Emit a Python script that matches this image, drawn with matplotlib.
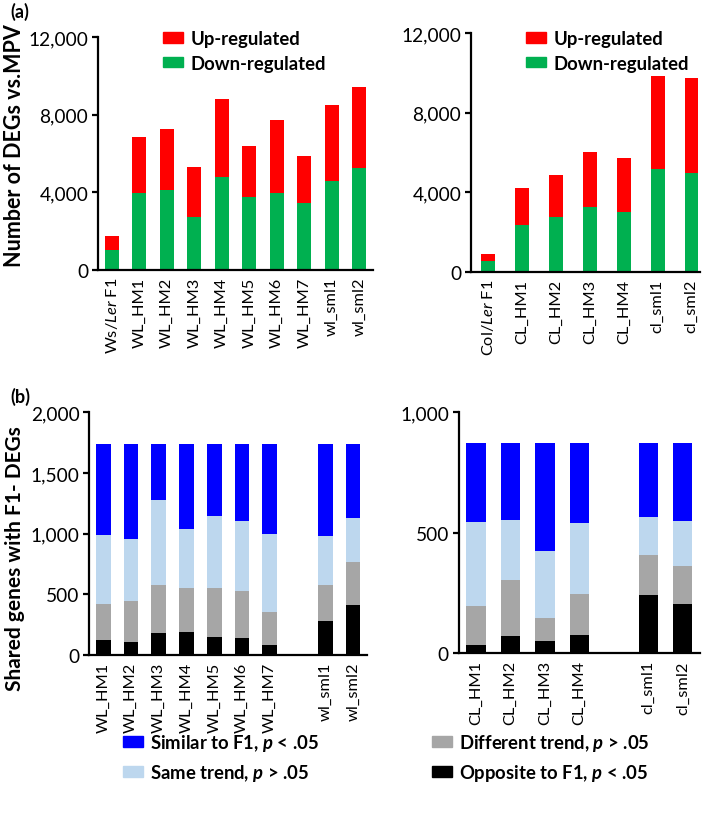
import matplotlib
matplotlib.use("Agg")
import matplotlib.pyplot as plt
from matplotlib.patches import Patch
import numpy as np

plt.rcParams['font.family'] = ['Lato', 'DejaVu Sans']
plt.rcParams['mathtext.fontset'] = 'custom'
plt.rcParams['mathtext.rm'] = 'Lato'
plt.rcParams['mathtext.it'] = 'Lato:italic'
plt.rcParams['mathtext.bf'] = 'Lato:bold'
plt.rcParams['mathtext.bfit'] = 'Lato:italic:bold'

# ---------------- data ----------------
# (a) left: DEGs vs MPV (Ws x Ler)
cats_a_left = ["Ws/$\\mathit{Ler}$ F1", "WL_HM1", "WL_HM2", "WL_HM3", "WL_HM4",
               "WL_HM5", "WL_HM6", "WL_HM7", "wl_sml1", "wl_sml2"]
down_a_left = [1030, 3970, 4140, 2750, 4810, 3740, 3950, 3430, 4580, 5240]
total_a_left = [1740, 6870, 7260, 5300, 8810, 6390, 7710, 5890, 8500, 9460]

# (a) right: DEGs vs MPV (Col x Ler)
cats_a_right = ["Col/$\\mathit{Ler}$ F1", "CL_HM1", "CL_HM2", "CL_HM3", "CL_HM4",
                "cl_sml1", "cl_sml2"]
down_a_right = [550, 2350, 2770, 3270, 3020, 5170, 4990]
total_a_right = [870, 4210, 4870, 6040, 5720, 9870, 9730]

# (b) left: shared genes with F1 DEGs (cumulative tops of each segment)
cats_b_left = ["WL_HM1", "WL_HM2", "WL_HM3", "WL_HM4", "WL_HM5", "WL_HM6",
               "WL_HM7", "wl_sml1", "wl_sml2"]
pos_b_left = [0, 1, 2, 3, 4, 5, 6, 8, 9]
opposite_b_left = [120, 107, 179, 187, 149, 140, 83, 275, 413]
different_top_b_left = [418, 446, 578, 547, 550, 528, 349, 578, 762]
same_top_b_left = [990, 955, 1274, 1034, 1142, 1106, 999, 982, 1131]
total_b_left = [1740] * 9

# (b) right
cats_b_right = ["CL_HM1", "CL_HM2", "CL_HM3", "CL_HM4", "cl_sml1", "cl_sml2"]
pos_b_right = [0, 1, 2, 3, 5, 6]
opposite_b_right = [36, 72, 51, 77, 242, 203]
different_top_b_right = [195, 304, 145, 246, 408, 362]
same_top_b_right = [546, 555, 423, 539, 567, 550]
total_b_right = [873] * 6

RED = "#FF0000"
GREEN = "#00B050"
BLUE = "#0000FF"
LBLUE = "#BDD7EE"
GRAY = "#A6A6A6"
BLACK = "#000000"

W, H = 709, 820
fig = plt.figure(figsize=(W / 100, H / 100), dpi=100)

def box(l, r, t, b):
    return [l / W, 1 - b / H, (r - l) / W, (b - t) / H]

ax1 = fig.add_axes(box(98, 373, 38.3, 271))
ax2 = fig.add_axes(box(471, 700, 34.3, 272.7))
ax3 = fig.add_axes(box(89.3, 367, 413.3, 655.7))
ax4 = fig.add_axes(box(458.7, 700, 413.3, 654.3))

YFS = 13.8
XFS = 11.8
LFS = 13.3

def style(ax):
    for s in ["top", "right"]:
        ax.spines[s].set_visible(False)
    for s in ["left", "bottom"]:
        ax.spines[s].set_linewidth(1.6)
    ax.tick_params(axis='y', direction='out', length=4, width=1.6, labelsize=YFS, pad=3)
    ax.tick_params(axis='x', length=0, labelsize=XFS, pad=5)

def stacked_a(ax, cats, down, total, width, xlim):
    x = np.arange(len(cats))
    up = np.array(total) - np.array(down)
    ax.bar(x, down, width, color=GREEN, linewidth=0)
    ax.bar(x, up, width, bottom=down, color=RED, linewidth=0)
    ax.set_xticks(x)
    ax.set_xticklabels(cats, rotation=90)
    ax.set_xlim(*xlim)
    ax.set_ylim(0, 12000)
    ax.set_yticks([0, 4000, 8000, 12000])
    ax.set_yticklabels(["0", "4,000", "8,000", "12,000"])
    style(ax)

stacked_a(ax1, cats_a_left, down_a_left, total_a_left, 0.5, (-0.5, 9.5))
stacked_a(ax2, cats_a_right, down_a_right, total_a_right, 0.41, (-0.5, 6.25))

def stacked_b(ax, pos, cats, opp, diff_top, same_top, total, width, xlim, ymax, yticks, ylabels):
    opp = np.array(opp); diff_top = np.array(diff_top)
    same_top = np.array(same_top); total = np.array(total)
    ax.bar(pos, opp, width, color=BLACK, linewidth=0)
    ax.bar(pos, diff_top - opp, width, bottom=opp, color=GRAY, linewidth=0)
    ax.bar(pos, same_top - diff_top, width, bottom=diff_top, color=LBLUE, linewidth=0)
    ax.bar(pos, total - same_top, width, bottom=same_top, color=BLUE, linewidth=0)
    ax.set_xticks(pos)
    ax.set_xticklabels(cats, rotation=90)
    ax.set_xlim(*xlim)
    ax.set_ylim(0, ymax)
    ax.set_yticks(yticks)
    ax.set_yticklabels(ylabels)
    style(ax)

stacked_b(ax3, pos_b_left, cats_b_left, opposite_b_left, different_top_b_left,
          same_top_b_left, total_b_left, 0.53, (-0.5, 9.5), 2000,
          [0, 500, 1000, 1500, 2000], ["0", "500", "1,000", "1,500", "2,000"])
stacked_b(ax4, pos_b_right, cats_b_right, opposite_b_right, different_top_b_right,
          same_top_b_right, total_b_right, 0.56, (-0.5, 6.5), 1000,
          [0, 500, 1000], ["0", "500", "1,000"])

# legends for (a)
leg_a = [Patch(color=RED, label="Up-regulated"), Patch(color=GREEN, label="Down-regulated")]
for xl in (162.7, 526):
    fig.legend(handles=leg_a, loc='upper left', bbox_to_anchor=(xl / W, 1 - 31 / H),
               frameon=False, borderpad=0, borderaxespad=0, handlelength=1.1,
               handleheight=0.5, handletextpad=0.4, labelspacing=0.42,
               prop={'weight': 'bold', 'size': LFS})

# legends for (b)
leg_b1 = [Patch(color=BLUE, label="Similar to F1, $\\mathbfit{p}$ < .05"),
          Patch(color=LBLUE, label="Same trend, $\\mathbfit{p}$ > .05")]
leg_b2 = [Patch(color=GRAY, label="Different trend, $\\mathbfit{p}$ > .05"),
          Patch(color=BLACK, label="Opposite to F1, $\\mathbfit{p}$ < .05")]
for handles, xl in ((leg_b1, 122.7), (leg_b2, 431.7)):
    fig.legend(handles=handles, loc='upper left', bbox_to_anchor=(xl / W, 1 - 733 / H),
               frameon=False, borderpad=0, borderaxespad=0, handlelength=1.1,
               handleheight=0.5, handletextpad=0.4, labelspacing=0.5,
               prop={'weight': 'bold', 'size': LFS})

# y labels and panel letters
fig.text(15 / W, 1 - 146 / H, "Number of DEGs vs.MPV", rotation=90, ha='center',
         va='center', fontsize=15.5, fontweight='bold')
fig.text(15 / W, 1 - 559 / H, "Shared genes with F1- DEGs", rotation=90, ha='center',
         va='center', fontsize=15, fontweight='bold')
fig.text(10 / W, 1 - 12 / H, "(a)", ha='left', va='center', fontsize=13, fontweight='bold')
fig.text(10 / W, 1 - 397 / H, "(b)", ha='left', va='center', fontsize=13, fontweight='bold')

fig.savefig("out.png", dpi=100)
